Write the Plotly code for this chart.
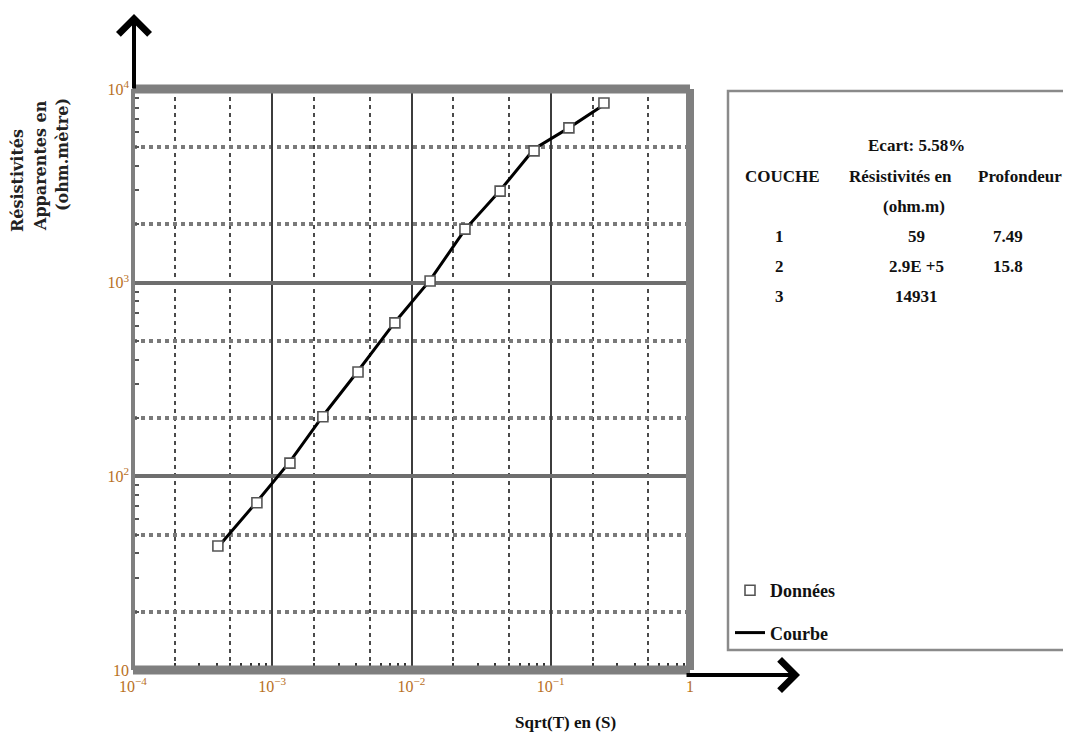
import plotly.graph_objects as go

# ---------------- data ----------------
x_data = [4.07e-4, 7.76e-4, 1.34e-3, 2.31e-3, 4.13e-3, 7.60e-3,
          0.0136, 0.0242, 0.0433, 0.0759, 0.135, 0.241]
rho_data = [43.7, 73, 117, 203, 346, 620, 1020, 1890, 2970, 4790, 6300, 8470]

x_curve = [4.07e-4, 7.76e-4, 1.34e-3, 2.31e-3, 4.13e-3, 7.60e-3,
           0.0136, 0.0242, 0.0433, 0.0759, 0.135, 0.241]
rho_curve = [43, 74, 119, 205, 350, 625, 1030, 1880, 2990, 4900, 6300, 8300]

x_major = [1e-4, 1e-3, 1e-2, 1e-1, 1]
x_labels = ["10<sup>−4</sup>", "10<sup>−3</sup>", "10<sup>−2</sup>", "10<sup>−1</sup>", "1"]
y_major = [10, 100, 1000, 10000]
y_labels = ["10", "10<sup>2</sup>", "10<sup>3</sup>", "10<sup>4</sup>"]
grid_digits = [2, 5]
tick_digits = [2, 3, 4, 5, 6, 7, 8, 9]

ecart = "Ecart: 5.58%"
col_headers = ["COUCHE", "Résistivités en", "Profondeur"]
unit_header = "(ohm.m)"
layers = ["1", "2", "3"]
resistivities = ["59", "2.9E +5", "14931"]
depths = ["7.49", "15.8", ""]

x_title = "Sqrt(T) en (S)"
y_title_lines = ["Résistivités", "Apparentes en", "(ohm.mètre)"]

# ---------------- geometry (page pixels; the page body adds an 8px margin) ----------------
OFF = 8
W, H = 1071 - OFF, 738 - OFF
PL, PT, PW, PH = 133, 89, 557, 581          # plot area in page pixels
L, T = PL - OFF, PT - OFF
R, B = W - L - PW, H - T - PH


def px(xp):
    return (xp - PL) / PW


def py(yp):
    return (PT + PH - yp) / PH


x_grid_minor = [d * m for m in x_major[:-1] for d in grid_digits]
y_grid_minor = [d * m for m in y_major[:-1] for d in grid_digits]
x_tick_minor = [d * m for m in x_major[:-1] for d in tick_digits]
y_tick_minor = [d * m for m in y_major[:-1] for d in tick_digits]

tick_color = "#b8701e"
serif = "Liberation Serif"

fig = go.Figure()

fig.add_trace(go.Scatter(
    x=x_curve, y=rho_curve, mode="lines", name="Courbe",
    line=dict(color="black", width=3), legendgroup="b", legendrank=2,
))
fig.add_trace(go.Scatter(
    x=x_data, y=rho_data, mode="markers", name="Données",
    marker=dict(symbol="square", size=10, color="white",
                line=dict(color="#555555", width=1.6)),
    legendgroup="a", legendrank=1,
))
# empty traces so the overlay axes (small inside ticks) are drawn
fig.add_trace(go.Scatter(x=[], y=[], xaxis="x2", yaxis="y", showlegend=False, hoverinfo="skip"))
fig.add_trace(go.Scatter(x=[], y=[], xaxis="x", yaxis="y2", showlegend=False, hoverinfo="skip"))

fig.update_layout(
    width=W, height=H,
    margin=dict(l=L, r=R, t=T, b=B),
    paper_bgcolor="white", plot_bgcolor="white",
    xaxis=dict(
        type="log", range=[-4, 0], tickmode="array", tickvals=x_major, ticktext=x_labels,
        showgrid=True, gridcolor="#3c3c3c", gridwidth=2,
        zeroline=False, showline=False, ticks="",
        ticklabelstandoff=5,
        tickfont=dict(family=serif, size=16, color=tick_color),
        minor=dict(tickmode="array", tickvals=x_grid_minor, showgrid=True,
                   gridcolor="#4a4a4a", gridwidth=2, griddash="4px,4px", ticks=""),
    ),
    yaxis=dict(
        type="log", range=[1, 4], tickmode="array", tickvals=y_major, ticktext=y_labels,
        showgrid=True, gridcolor="#6e6e6e", gridwidth=4,
        zeroline=False, showline=False, ticks="",
        ticklabelstandoff=3,
        tickfont=dict(family=serif, size=16, color=tick_color),
        minor=dict(tickmode="array", tickvals=y_grid_minor, showgrid=True,
                   gridcolor="#7a7a7a", gridwidth=4, griddash="4px,4px", ticks=""),
    ),
    xaxis2=dict(
        type="log", range=[-4, 0], overlaying="x", anchor="y", side="bottom",
        tickmode="array", tickvals=x_tick_minor, ticks="inside", ticklen=7,
        tickwidth=2, tickcolor="#333333", showticklabels=False,
        showgrid=False, zeroline=False, showline=False,
    ),
    yaxis2=dict(
        type="log", range=[1, 4], overlaying="y", anchor="x", side="left",
        tickmode="array", tickvals=y_tick_minor, ticks="inside", ticklen=6,
        tickwidth=2, tickcolor="#555555", showticklabels=False,
        showgrid=False, zeroline=False, showline=False,
    ),
    legend=dict(
        x=px(730), xanchor="left", y=py(572), yanchor="top",
        font=dict(family=serif, size=18, color="#111111", weight="bold"),
        itemwidth=30, traceorder="grouped", tracegroupgap=16,
        bgcolor="rgba(0,0,0,0)",
    ),
    showlegend=True,
)

# frame of the plot (thick grey border) and right-hand information box
frame_col = "#7f7f7f"
fig.add_shape(type="rect", xref="paper", yref="paper", x0=px(728), x1=px(1090),
              y0=py(650), y1=py(91), line=dict(color="#8a8a8a", width=2.5),
              fillcolor="rgba(0,0,0,0)", layer="below")
fig.add_shape(type="line", xref="paper", yref="paper", x0=0, x1=1, y0=1, y1=1,
              line=dict(color=frame_col, width=9), layer="above")
fig.add_shape(type="line", xref="paper", yref="paper", x0=0, x1=1, y0=0, y1=0,
              line=dict(color=frame_col, width=9), layer="above")
fig.add_shape(type="line", xref="paper", yref="paper", x0=0, x1=0, y0=0, y1=1,
              line=dict(color=frame_col, width=4), layer="above")
fig.add_shape(type="line", xref="paper", yref="paper", x0=1, x1=1, y0=0, y1=1,
              line=dict(color=frame_col, width=8), layer="above")

# axis arrows
fig.add_annotation(xref="paper", yref="paper", x=px(134), y=py(14), text="",
                   showarrow=True, ax=0, ay=76, arrowhead=4, arrowsize=1.5,
                   arrowwidth=4, arrowcolor="black")
fig.add_annotation(xref="paper", yref="paper", x=px(800), y=py(675), text="",
                   showarrow=True, ax=-115, ay=0, arrowhead=4, arrowsize=1.5,
                   arrowwidth=4, arrowcolor="black")

# axis titles
fig.add_annotation(xref="paper", yref="paper", x=px(565), y=py(722), text=x_title,
                   xanchor="center", yanchor="middle", showarrow=False,
                   font=dict(family=serif, size=17, color="#111111", weight="bold"))
for txt, xc, yc in zip(y_title_lines, [17, 40, 62], [181, 166, 155]):
    fig.add_annotation(xref="paper", yref="paper", x=px(xc), y=py(yc), text=txt,
                       xanchor="center", yanchor="middle", textangle=-90, showarrow=False,
                       font=dict(family="DejaVu Serif", size=16, color="#222222", weight="bold"))

# information table
tfont = dict(family=serif, size=17, color="#111111", weight="bold")


def cell(xc, yc, txt, anchor="center"):
    fig.add_annotation(xref="paper", yref="paper", x=px(xc), y=py(yc), text=txt,
                       xanchor=anchor, yanchor="middle", showarrow=False, font=tfont)


cell(916, 145, ecart)
cell(782, 176, col_headers[0])
cell(900, 176, col_headers[1])
cell(976, 176, col_headers[2], anchor="left")
cell(914, 206, unit_header)
for i, (lay, res, dep) in enumerate(zip(layers, resistivities, depths)):
    yc = 236 + 30 * i
    cell(779, yc, lay)
    cell(916, yc, res)
    if dep:
        cell(1008, yc, dep)

fig.write_html("out.html")
